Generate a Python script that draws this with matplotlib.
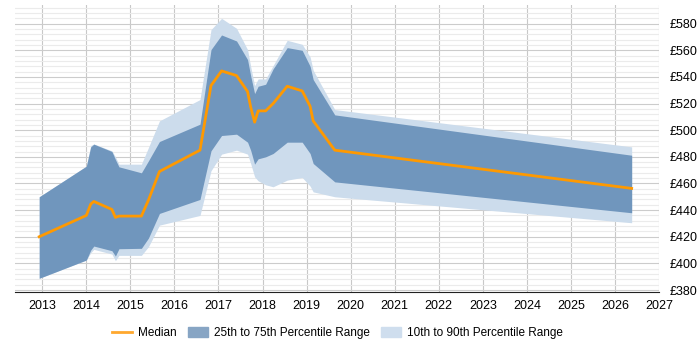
import matplotlib
matplotlib.use('Agg')
import matplotlib.pyplot as plt
from matplotlib.ticker import MultipleLocator, FuncFormatter
from matplotlib.patches import Patch
from matplotlib.lines import Line2D

plt.rcParams['font.family'] = ['Liberation Sans', 'DejaVu Sans']

years = [2012.93, 2014.0, 2014.1, 2014.17, 2014.58, 2014.66, 2014.74, 2015.25, 2015.41,
         2015.66, 2016.58, 2016.83, 2017.07, 2017.41, 2017.66, 2017.73, 2017.82, 2017.9,
         2018.07, 2018.24, 2018.56, 2018.9, 2019.08, 2019.15, 2019.64, 2026.38]
median = [420, 436, 444.5, 446.5, 440.5, 434.5, 435.5, 435.5, 447.5, 469, 485, 533.5, 544.5,
          541, 529, 517.5, 506, 514.5, 514.5, 520, 533, 529.5, 518, 507, 485, 456.3]
p75 = [450, 473, 487.5, 489.5, 484, 478, 472.5, 468, 477, 491.5, 504.5, 560.5, 571.5,
       567, 553, 541, 527.5, 533, 534.5, 546, 562, 560, 548, 538, 511.5, 481.2]
p25 = [388.8, 402.5, 410, 413, 409.5, 405.5, 411, 411.3, 419, 437.5, 448, 484.5, 496,
       497, 491, 485, 474.5, 478.5, 480, 482.5, 491, 491, 482.5, 475, 461.2, 438]
p90 = [450, 473, 488.5, 489.7, 484.5, 480, 474.5, 474.5, 487, 507, 523, 575.5, 584,
       576.5, 560.5, 548, 533.5, 538.5, 538.5, 548.5, 567.5, 564.5, 555, 545, 515.5, 487.5]
p10 = [388.8, 402.5, 408, 410.5, 407, 402, 406, 406, 412.5, 428.7, 436, 469.5, 482,
       485, 482, 475, 465, 462, 459, 457.5, 462.5, 464.5, 458, 453.7, 450, 430.5]

fig = plt.figure(figsize=(7, 3.5), dpi=100)
ax = fig.add_axes([0.0214, 0.1657, 0.92, 0.82])

ax.fill_between(years, p10, p90, color='#ccdcec', lw=0, zorder=2)
ax.fill_between(years, p25, p75, color='#7096bd', lw=0, zorder=3)
ax.plot(years, median, color='#ff9900', lw=2, zorder=4)

ax.set_xlim(2012.38, 2027)
ax.set_ylim(378.5, 594)
ax.xaxis.set_major_locator(MultipleLocator(1))
ax.yaxis.set_major_locator(MultipleLocator(20))
ax.yaxis.set_minor_locator(MultipleLocator(4))
ax.yaxis.set_major_formatter(FuncFormatter(lambda v, p: '£%d' % v))
ax.yaxis.tick_right()
ax.tick_params(axis='y', which='both', length=0, pad=8, labelsize=9)
ax.tick_params(axis='x', length=0, labelsize=9, pad=6)

ax.grid(True, axis='x', color='#c8c8c8', lw=0.8, zorder=1)
ax.grid(True, axis='y', which='major', color='#cccccc', lw=0.8, zorder=1)
ax.grid(True, axis='y', which='minor', color='#ebebeb', lw=0.8, zorder=1)
ax.set_axisbelow(True)

for s in ['top', 'left', 'right']:
    ax.spines[s].set_visible(False)
ax.spines['bottom'].set_color('#222222')

handles = [Line2D([], [], color='#ffa82e', lw=2),
           Patch(color='#87a5c4'),
           Patch(color='#cfdeee')]
labels = ['Median', '25th to 75th Percentile Range', '10th to 90th Percentile Range']
fig.legend(handles, labels, loc='center', bbox_to_anchor=(0.482, 0.048),
           ncol=3, frameon=False, fontsize=8.5, handlelength=1.7, handleheight=0.85,
           handletextpad=0.5, columnspacing=0.95)

plt.savefig('out.png')
